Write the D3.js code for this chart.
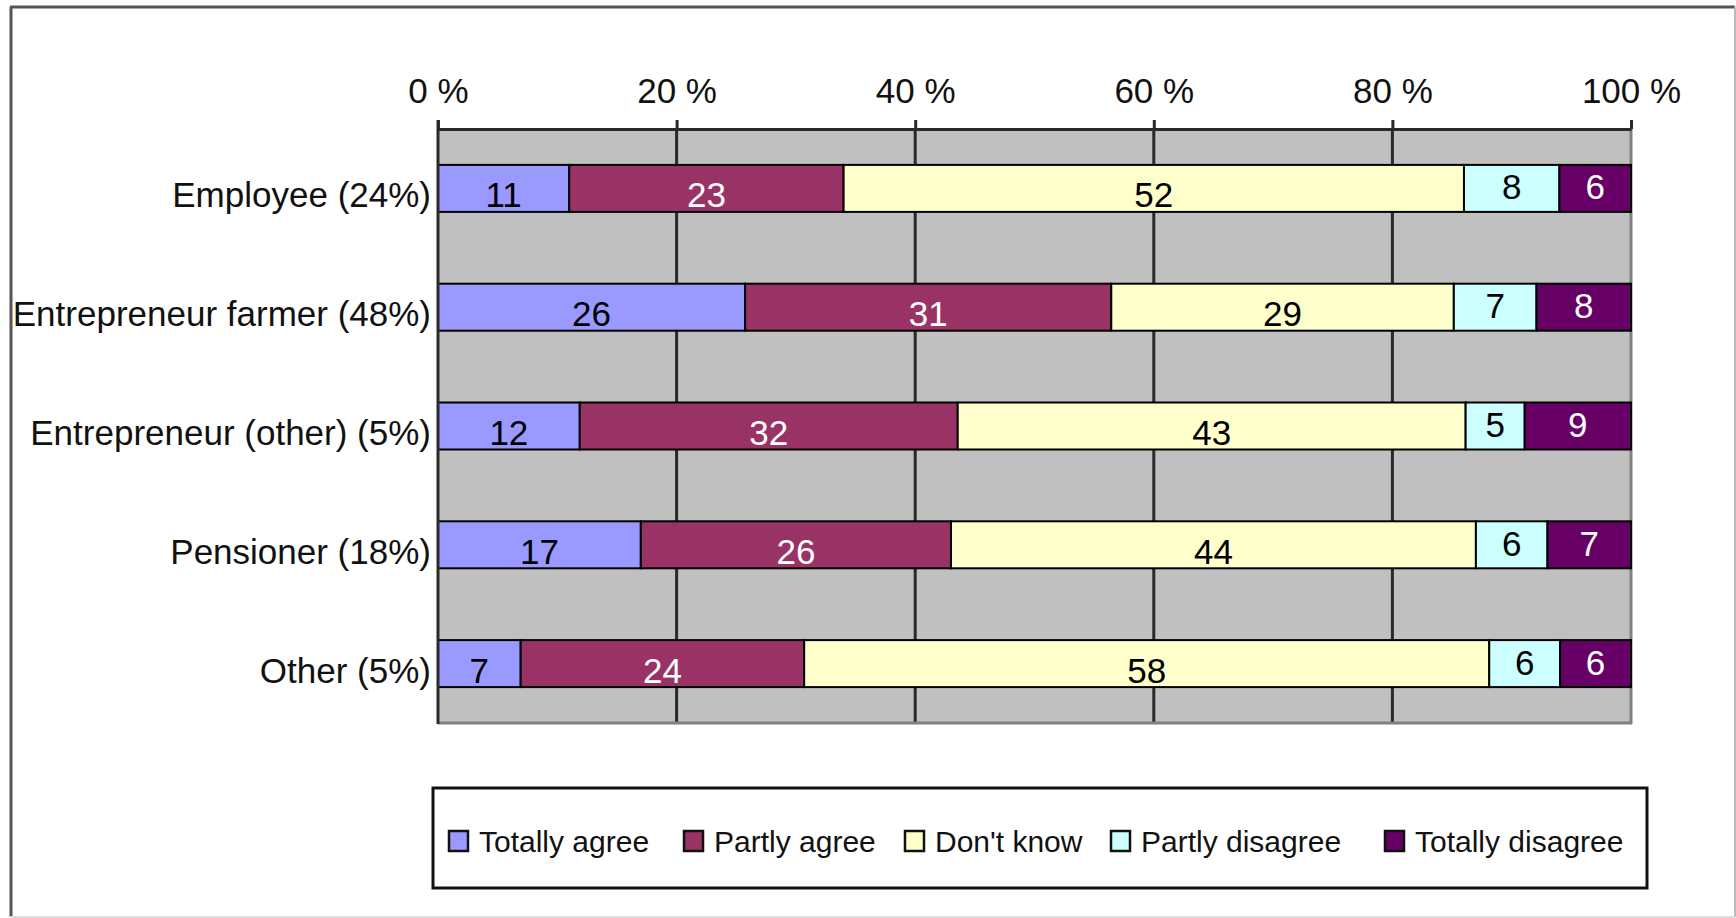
<!DOCTYPE html>
<html>
<head>
<meta charset="utf-8">
<script src="https://cdn.jsdelivr.net/npm/d3@7"></script>
<style>
	body { margin: 0; background: #fff; }
	svg { display: block; font-family: 'Liberation Sans', Arial, sans-serif; }
</style>
</head>
<body>
<svg></svg>
<script>
// data
var categories = ['Employee (24%)', 'Entrepreneur farmer (48%)', 'Entrepreneur (other) (5%)', 'Pensioner (18%)', 'Other (5%)'];
var seriesNames = ['Totally agree', 'Partly agree', "Don't know", 'Partly disagree', 'Totally disagree'];
var totallyAgree = [11, 26, 12, 17, 7];
var partlyAgree = [23, 31, 32, 26, 24];
var dontKnow = [52, 29, 43, 44, 58];
var partlyDisagree = [8, 7, 5, 6, 6];
var totallyDisagree = [6, 8, 9, 7, 6];
var tickValues = [0, 0.2, 0.4, 0.6, 0.8, 1];

var colors = ['#9999ff', '#993366', '#ffffcc', '#ccffff', '#660066'];
var labelColors = ['#000', '#fff', '#000', '#000', '#fff'];

var W = 1736, H = 918;
var plot = {L: 438, R: 1631, T: 129, B: 723};
var barH = 47;
var legendX = [449, 684, 905, 1111, 1385];

var rows = categories.map(function(c, i) {
	return {
		'cat': c,
		'Totally agree': totallyAgree[i],
		'Partly agree': partlyAgree[i],
		"Don't know": dontKnow[i],
		'Partly disagree': partlyDisagree[i],
		'Totally disagree': totallyDisagree[i]
	};
});

var stack = d3.stack()
	.keys(seriesNames)
	.offset(d3.stackOffsetExpand);
var series = stack(rows);

var x = d3.scaleLinear()
	.domain([0, 1])
	.range([plot.L, plot.R]);
var y = d3.scaleBand()
	.domain(categories)
	.range([plot.T, plot.B])
	.padding(0);

var svg = d3.select('svg')
	.attr('width', W)
	.attr('height', H);

// chart frame
svg.append('line').attr('x1', 11).attr('y1', 7).attr('x2', 11).attr('y2', 917)
	.attr('stroke', '#555').attr('stroke-width', 3);
svg.append('line').attr('x1', 10).attr('y1', 7).attr('x2', 1735).attr('y2', 7)
	.attr('stroke', '#555').attr('stroke-width', 3);
svg.append('line').attr('x1', 1735).attr('y1', 7).attr('x2', 1735).attr('y2', 917)
	.attr('stroke', '#bbb').attr('stroke-width', 2);
svg.append('line').attr('x1', 10).attr('y1', 917).attr('x2', 1735).attr('y2', 917)
	.attr('stroke', '#ddd').attr('stroke-width', 2);

// plot area
svg.append('rect')
	.attr('x', plot.L).attr('y', plot.T)
	.attr('width', plot.R - plot.L).attr('height', plot.B - plot.T)
	.attr('fill', '#c0c0c0');

svg.append('g')
	.selectAll('line')
	.data(tickValues.slice(1, -1))
	.enter().append('line')
	.attr('x1', function(d) { return x(d); })
	.attr('x2', function(d) { return x(d); })
	.attr('y1', plot.T).attr('y2', plot.B)
	.attr('stroke', '#2a2a2a').attr('stroke-width', 3);

// right and bottom edges of plot
svg.append('line').attr('x1', plot.R).attr('x2', plot.R).attr('y1', plot.T).attr('y2', plot.B + 1)
	.attr('stroke', '#808080').attr('stroke-width', 3);
svg.append('line').attr('x1', plot.L).attr('x2', plot.R + 1).attr('y1', plot.B).attr('y2', plot.B)
	.attr('stroke', '#808080').attr('stroke-width', 3);

// bars
var barY = function(d) { return y(d.data.cat) + (y.bandwidth() - barH) / 2; };

var layers = svg.append('g')
	.selectAll('g')
	.data(series)
	.enter().append('g')
	.attr('fill', function(d, i) { return colors[i]; });

layers.selectAll('rect')
	.data(function(d) { return d; })
	.enter().append('rect')
	.attr('x', function(d) { return x(d[0]); })
	.attr('y', barY)
	.attr('width', function(d) { return x(d[1]) - x(d[0]); })
	.attr('height', barH)
	.attr('stroke', '#000')
	.attr('stroke-width', 2);

layers.each(function(s, i) {
	d3.select(this).selectAll('text')
		.data(s)
		.enter().append('text')
		.attr('x', function(d) { return (x(d[0]) + x(d[1])) / 2; })
		.attr('y', function(d) { return barY(d) + barH / 2 + (i < 3 ? 19 : 11); })
		.attr('text-anchor', 'middle')
		.attr('font-size', 35)
		.attr('fill', labelColors[i])
		.text(function(d) { return d.data[s.key]; });
});

// axes
var xAxis = d3.axisTop(x)
	.tickValues(tickValues)
	.tickFormat(function(d) { return Math.round(d * 100) + ' %'; })
	.tickSizeInner(9)
	.tickSizeOuter(0)
	.tickPadding(17);

var gx = svg.append('g')
	.attr('transform', 'translate(0,' + plot.T + ')')
	.call(xAxis);
gx.select('.domain').attr('stroke', '#2a2a2a').attr('stroke-width', 3);
gx.selectAll('.tick line').attr('stroke', '#2a2a2a').attr('stroke-width', 3);
gx.selectAll('.tick text')
	.attr('font-size', 35)
	.attr('font-family', "'Liberation Sans', Arial, sans-serif")
	.attr('fill', '#111');

svg.append('line').attr('x1', plot.L).attr('x2', plot.L).attr('y1', plot.T - 9).attr('y2', plot.B + 1)
	.attr('stroke', '#2a2a2a').attr('stroke-width', 3);

svg.append('g')
	.selectAll('text')
	.data(categories)
	.enter().append('text')
	.attr('x', plot.L - 7)
	.attr('y', function(d) { return y(d) + y.bandwidth() / 2 + 19; })
	.attr('text-anchor', 'end')
	.attr('font-size', 35)
	.attr('fill', '#111')
	.text(function(d) { return d; });

// legend
svg.append('rect')
	.attr('x', 433).attr('y', 788)
	.attr('width', 1647 - 433).attr('height', 888 - 788)
	.attr('fill', '#fff')
	.attr('stroke', '#111')
	.attr('stroke-width', 3);

var legend = svg.append('g')
	.selectAll('g')
	.data(seriesNames)
	.enter().append('g')
	.attr('transform', function(d, i) { return 'translate(' + legendX[i] + ',0)'; });

legend.append('rect')
	.attr('x', 0).attr('y', 831)
	.attr('width', 19).attr('height', 20)
	.attr('fill', function(d, i) { return colors[i]; })
	.attr('stroke', '#111')
	.attr('stroke-width', 2.5);

legend.append('text')
	.attr('x', 30).attr('y', 852)
	.attr('font-size', 30)
	.attr('fill', '#111')
	.text(function(d) { return d; });
</script>
</body>
</html>
